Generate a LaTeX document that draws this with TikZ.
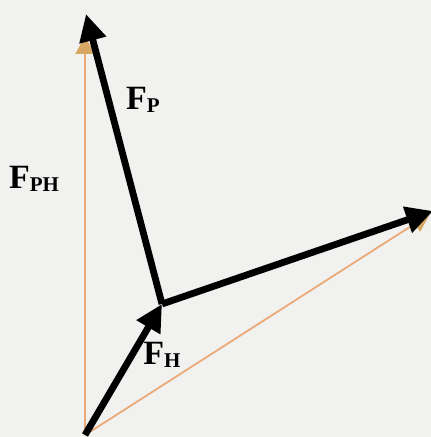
\documentclass[tikz,border=0pt]{standalone}
\usepackage{fontspec}
\setmainfont{Liberation Serif}
\usetikzlibrary{arrows.meta}
\definecolor{bgcol}{RGB}{241,241,239}
\definecolor{resultant}{RGB}{236,170,120}
\definecolor{resulthead}{RGB}{214,168,100}
\newcommand{\forcelbl}[1]{F\raisebox{-1.4pt}{\fontsize{10.5}{10.5}\selectfont #1}}
\tikzset{
	force/.style={line width=3.4pt,-{Triangle[length=13.5pt,width=13pt]}},
	sum/.style={draw=resultant,line width=0.9pt,-{Triangle[length=9pt,width=9.5pt,color=resulthead]}},
	flabel/.style={font=\bfseries\fontsize{17}{17}\selectfont,inner sep=0pt}
}
\begin{document}
\begin{tikzpicture}[x=0.5pt,y=-0.5pt]
	\fill[bgcol] (0,0) rectangle (431,437);
	\useasboundingbox (0,0) rectangle (431,437);
	\coordinate (o) at (85,435);
	\coordinate (h) at (162,304);
	\coordinate (p) at (86,14);
	\coordinate (r) at (433,211);
	\coordinate (ph) at (85,36);
	\coordinate (s) at (430,214);
	% resultants
	\draw[sum] (o) -- (ph);
	\draw[sum] (o) -- (s);
	% forces
	\draw[force] (o) -- (h);
	\draw[force] (h) -- (p);
	\draw[force] (h) -- (r);
	\node[flabel] (lp) at (143,100) {\forcelbl{P}};
	\node[flabel] (lph) at (34,179) {\forcelbl{PH}};
	\node[flabel] (lh) at (162,355) {\forcelbl{H}};
\end{tikzpicture}
\end{document}
